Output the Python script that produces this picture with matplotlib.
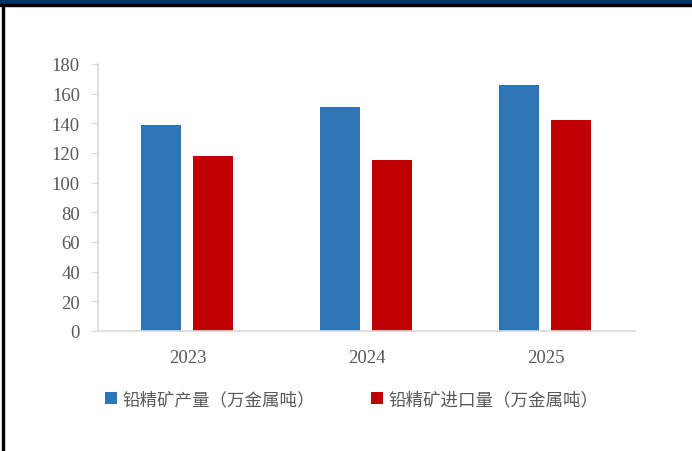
import matplotlib.pyplot as plt
import matplotlib.patches as mpatches
import numpy as np

plt.rcParams['font.family'] = ['Liberation Serif', 'Noto Sans CJK SC']

years = ['2023', '2024', '2025']
output = [139, 151, 166]        # 铅精矿产量（万金属吨）
imports = [118, 115, 142]       # 铅精矿进口量（万金属吨）
series_names = ['铅精矿产量（万金属吨）', '铅精矿进口量（万金属吨）']
colors = ['#2e75b6', '#c00000']

fig = plt.figure(figsize=(6.92, 4.52), dpi=100)

# header band and frame lines
fig.patches.append(mpatches.Rectangle((0, 1 - 5 / 452), 1, 5 / 452, transform=fig.transFigure,
                                      color='#003366', zorder=0))
fig.patches.append(mpatches.Rectangle((0, 1 - 7 / 452), 1, 2 / 452, transform=fig.transFigure,
                                      color='black', zorder=0))
fig.patches.append(mpatches.Rectangle((2 / 692, 0), 2 / 692, 1 - 5 / 452, transform=fig.transFigure,
                                      color='black', zorder=0))

ax = fig.add_axes([98 / 692, 1 - 332 / 452, 537 / 692, 267 / 452])

x = np.arange(len(years))
w = 0.223
gap = 0.067
b1 = ax.bar(x - (w + gap) / 2 - 0.004, output, width=w, color=colors[0], label=series_names[0])
b2 = ax.bar(x + (w + gap) / 2 - 0.004, imports, width=w, color=colors[1], label=series_names[1])

ax.set_xlim(-0.5, 2.5)
ax.set_ylim(0, 180)
ax.set_yticks(range(0, 181, 20))
ax.set_xticks(x)
ax.set_xticklabels(years)

for side in ['top', 'right']:
    ax.spines[side].set_visible(False)
for side in ['left', 'bottom']:
    ax.spines[side].set_color('#d9d9d9')
    ax.spines[side].set_linewidth(1.2)

ax.tick_params(axis='y', length=5, color='#d9d9d9', labelsize=13.5, labelcolor='#595959', pad=8)
ax.tick_params(axis='x', length=0, labelsize=13.5, labelcolor='#595959', pad=13)

leg = fig.legend(handles=[b1, b2], loc='center', bbox_to_anchor=(0.508, 0.115), ncol=2,
                 frameon=False, handlelength=0.7, handleheight=0.7, handletextpad=0.3,
                 columnspacing=3.2, prop={'family': ['Noto Sans CJK SC'], 'size': 12.6})
for t in leg.get_texts():
    t.set_color('#595959')

fig.savefig('out.png', dpi=100)
